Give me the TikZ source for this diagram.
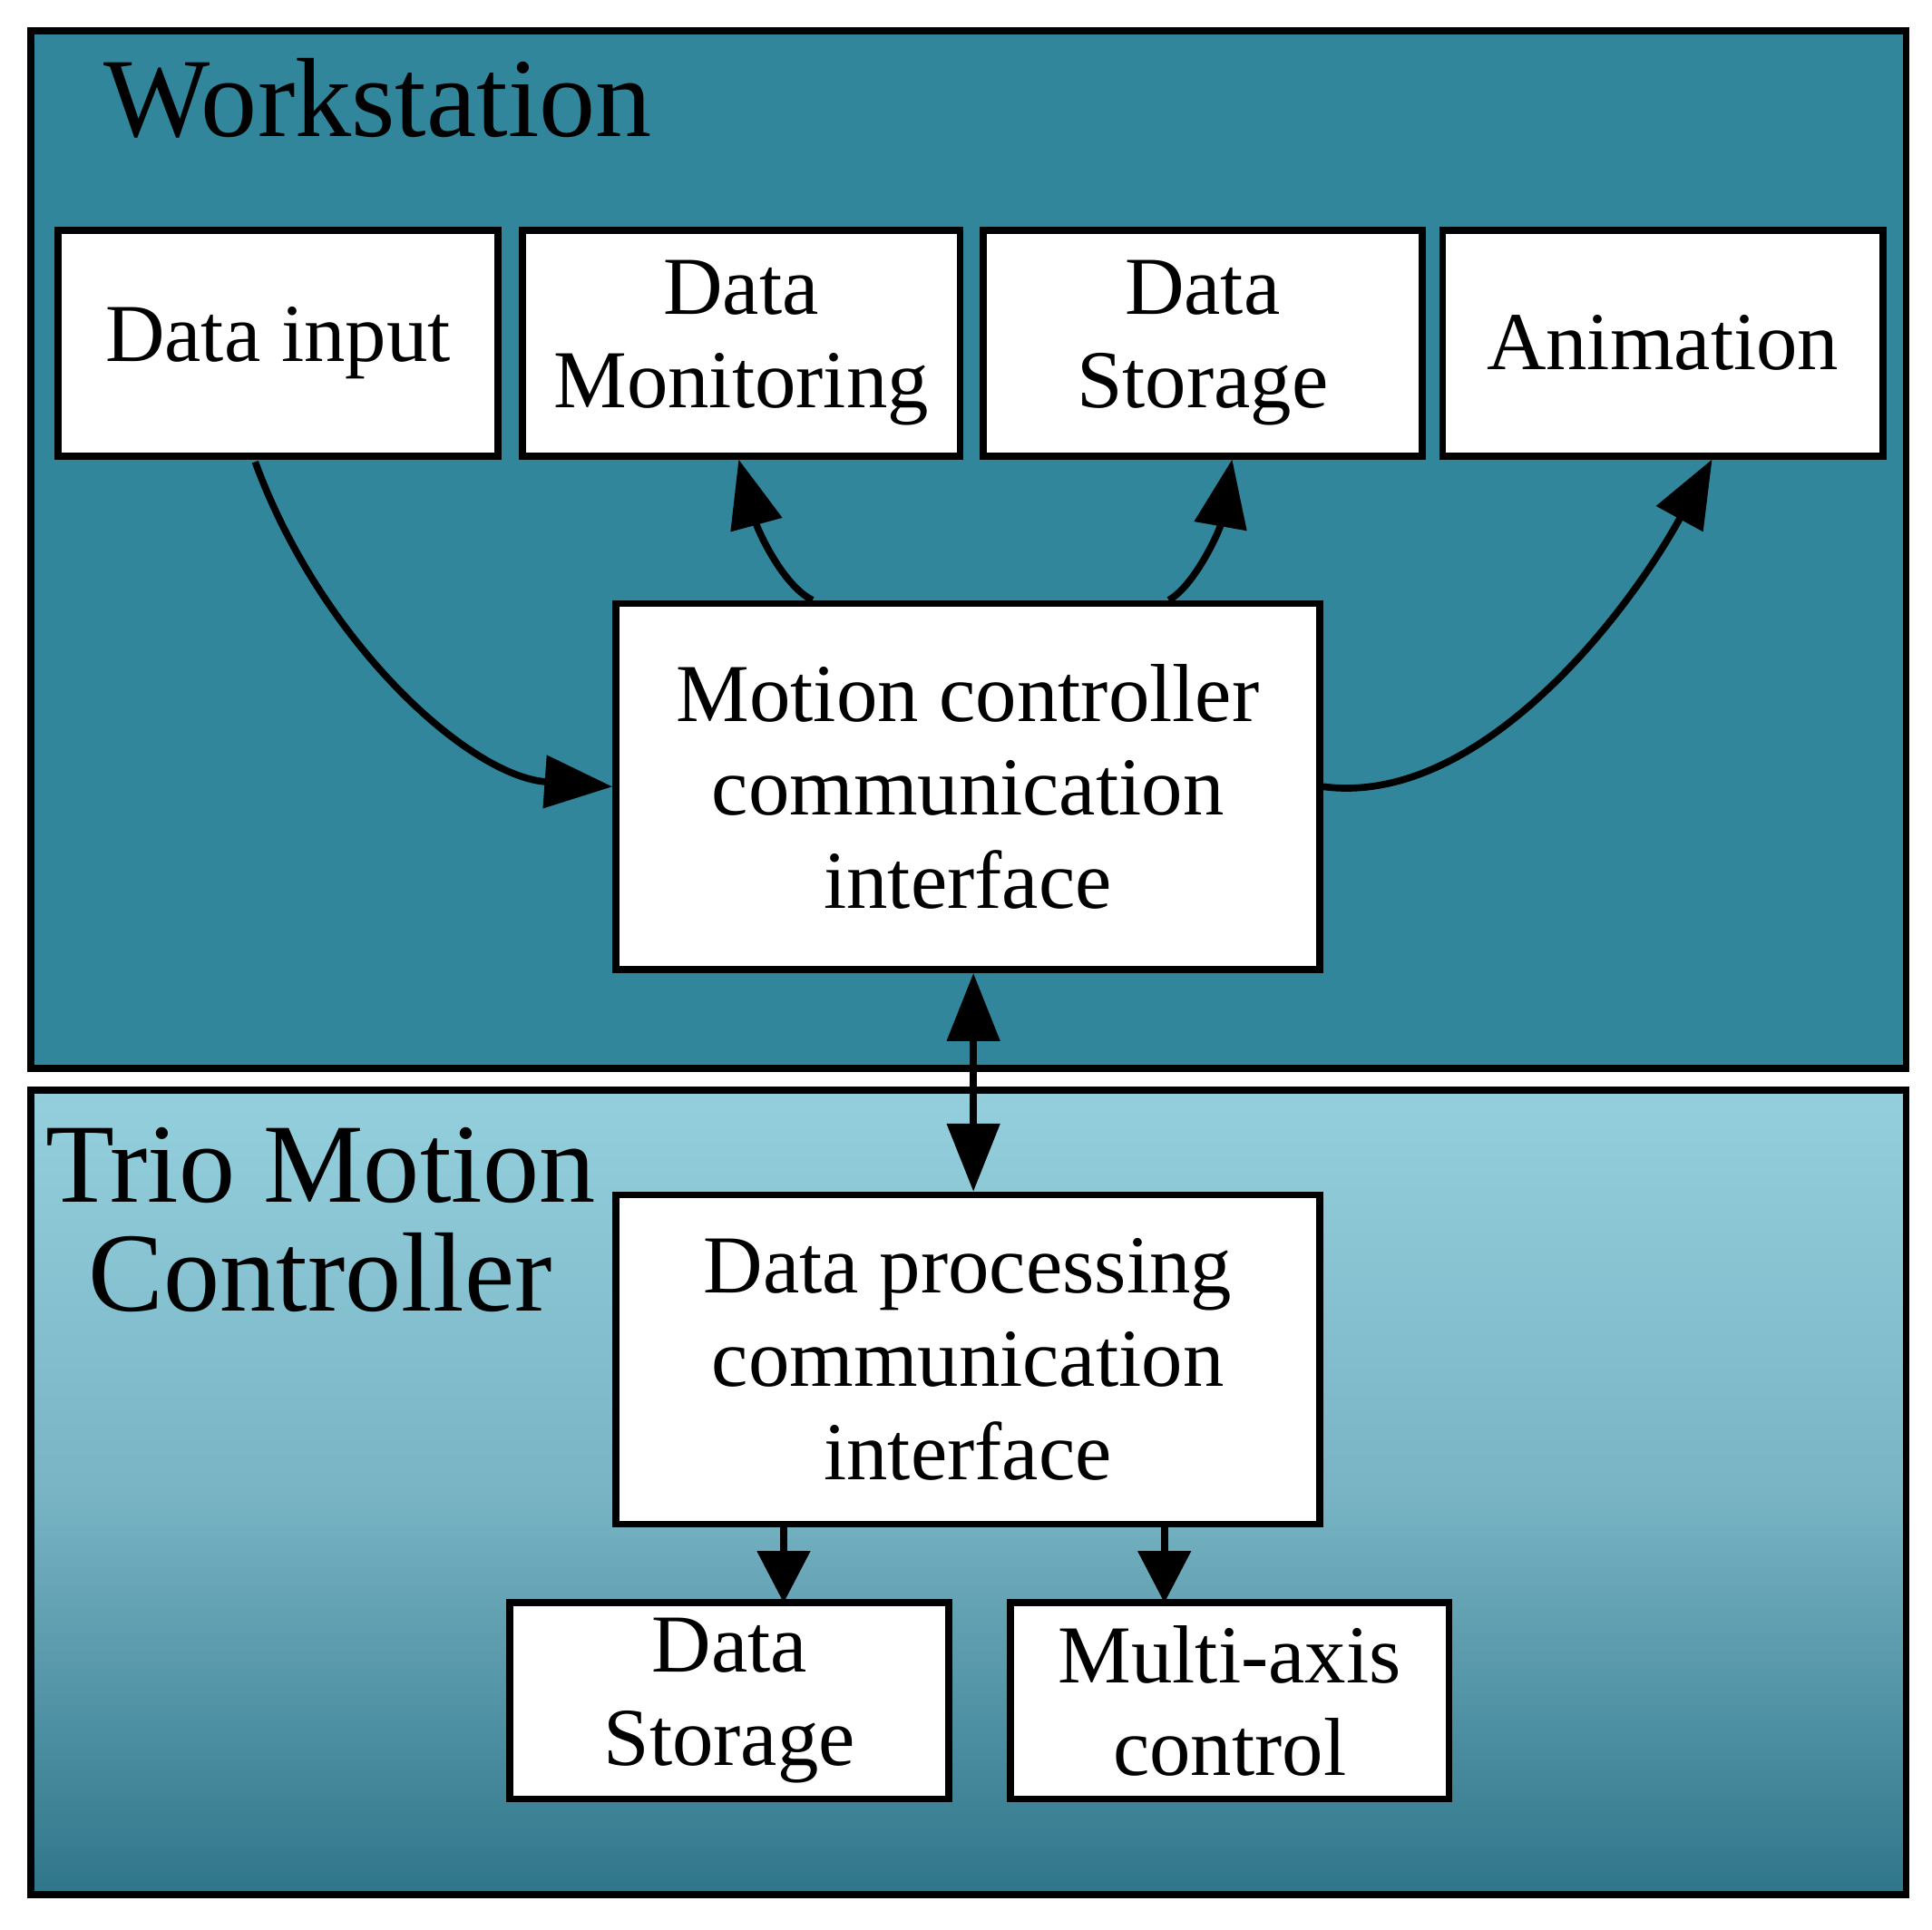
\documentclass[tikz,border=0pt]{standalone}
\usepackage{fontspec}
\setmainfont{Liberation Serif}
\usetikzlibrary{arrows.meta}
\begin{document}
\begin{tikzpicture}[x=0.01cm,y=-0.01cm,
  box/.style={draw=black,line width=1.6pt,fill=white,align=center,font=\fontsize{19}{21.5}\selectfont},
  arr/.style={line width=1.6pt,-{Triangle[length=0.55cm,width=0.42cm]}},
  ttl/.style={font=\fontsize{26}{26}\selectfont,align=center}]
\useasboundingbox (0,0) rectangle (1568,1566);
\fill[white] (0,0) rectangle (1568,1566);
\filldraw[fill={rgb,255:red,49;green,134;blue,155},draw=black,line width=1.6pt] (25,25) rectangle (1547,867);
\shade[top color={rgb,255:red,148;green,207;blue,221},bottom color={rgb,255:red,47;green,117;blue,138},middle color={rgb,255:red,120;green,180;blue,196}] (25,885) rectangle (1547,1538);
\draw[black,line width=1.6pt] (25,885) rectangle (1547,1538);
\node[ttl,anchor=west] (ws) at (72,80) {Workstation};
\node[ttl] (trio) at (260,990) {Trio Motion\\[-1pt]Controller};
\node[box,minimum width=3.57cm,minimum height=1.83cm] (din) at (225.5,278.5) {Data input};
\node[box,minimum width=3.55cm,minimum height=1.83cm] (mon) at (601.5,278.5) {Data\\Monitoring};
\node[box,minimum width=3.56cm,minimum height=1.83cm] (sto) at (976,278.5) {Data\\Storage};
\node[box,minimum width=3.57cm,minimum height=1.83cm] (ani) at (1349.5,278.5) {Animation};
\node[box,minimum width=5.71cm,minimum height=2.97cm] (mc) at (785.5,638.5) {Motion controller\\communication\\interface};
\node[box,minimum width=5.71cm,minimum height=2.67cm] (dp) at (785.5,1103.5) {Data processing\\communication\\interface};
\node[box,minimum width=3.56cm,minimum height=1.59cm] (ds) at (592,1380.5) {Data\\Storage};
\node[box,minimum width=3.56cm,minimum height=1.59cm] (ma) at (998,1380.5) {Multi-axis\\control};
\draw[arr] (din.south west)++(163,2) .. controls (260,520) and (380,630) .. (mc.west);
\draw[arr] ([xshift=-1.26cm]mc.north) .. controls (635,475) and (615,430) .. ([xshift=-0.02cm]mon.south);
\draw[arr] ([xshift=1.63cm]mc.north) .. controls (970,475) and (990,430) .. ([xshift=0.24cm]sto.south);
\draw[arr] (mc.east) .. controls (1200,655) and (1320,500) .. ([xshift=0.4cm]ani.south);
\draw[line width=1.6pt,{Triangle[length=0.55cm,width=0.42cm]}-{Triangle[length=0.55cm,width=0.42cm]}] ([xshift=0.045cm]mc.south) -- ([xshift=0.045cm]dp.north);
\draw[arr,-{Triangle[length=0.42cm,width=0.42cm]}] (636,1237) -- (636,1301);
\draw[arr,-{Triangle[length=0.42cm,width=0.42cm]}] (945,1237) -- (945,1301);
\end{tikzpicture}
\end{document}
